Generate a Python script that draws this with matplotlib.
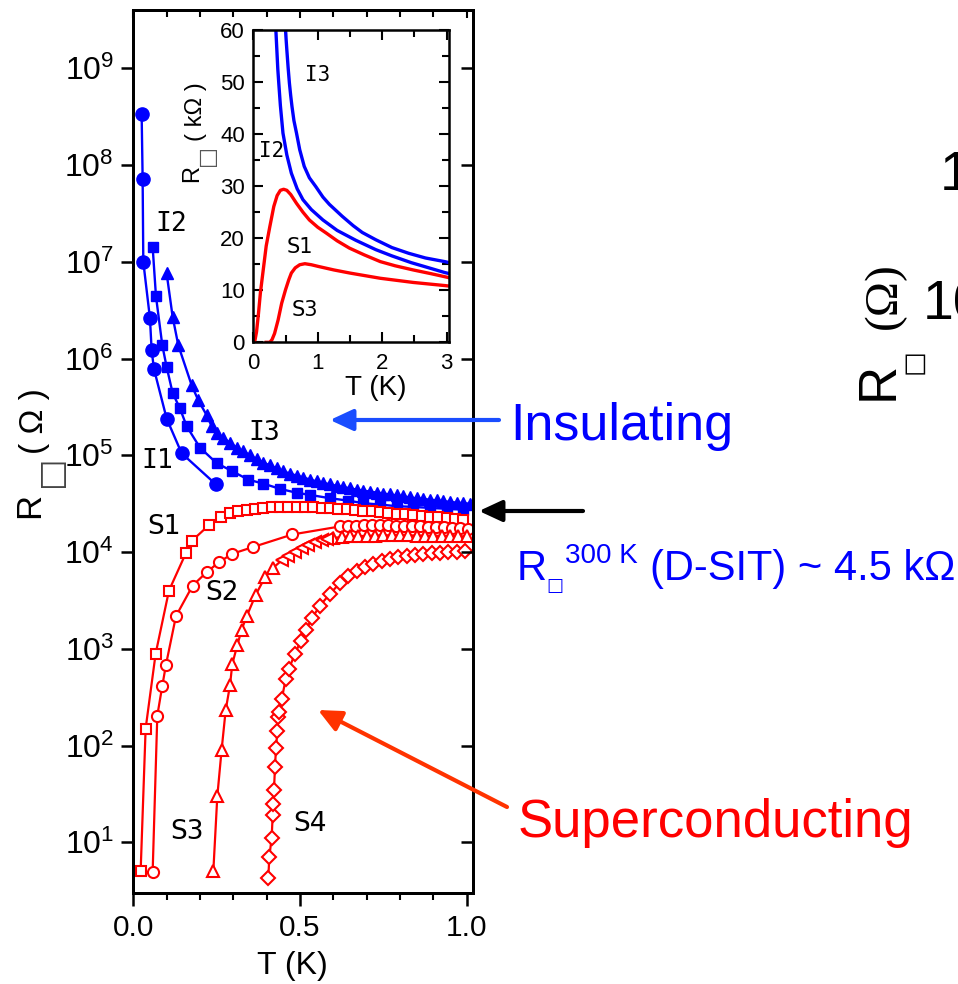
import numpy as np
import matplotlib
matplotlib.use("Agg")
import matplotlib.pyplot as plt
from matplotlib.ticker import FixedLocator, MultipleLocator, FormatStrFormatter, NullLocator, FuncFormatter
from matplotlib.patches import FancyArrowPatch

plt.rcParams['font.family'] = ['Liberation Sans', 'DejaVu Sans']
plt.rcParams['mathtext.fontset'] = 'custom'
plt.rcParams['mathtext.rm'] = 'Liberation Sans'
plt.rcParams['mathtext.default'] = 'regular'

BLUE = '#0000ff'
RED = '#ff0000'

# ---------------- main panel: R_sq(T), T in K, R in Ohm ----------------
t_i1 = [0.025, 0.028, 0.030, 0.050, 0.055, 0.062, 0.100, 0.145, 0.248]
r_i1 = [3.4e8, 7.2e7, 1.0e7, 2.6e6, 1.22e6, 7.8e5, 2.4e5, 1.05e5, 5.0e4]

t_i2 = [0.058, 0.068, 0.087, 0.100, 0.118, 0.140, 0.160, 0.200, 0.250, 0.295,
        0.345, 0.390, 0.440, 0.490, 0.530, 0.590, 0.645, 0.690, 0.740, 0.790,
        0.840, 0.890, 0.940, 0.990]
r_i2 = [1.43e7, 4.4e6, 1.37e6, 8.2e5, 4.4e5, 3.05e5, 2.0e5, 1.2e5, 8.3e4, 6.9e4,
        5.6e4, 5.1e4, 4.5e4, 4.1e4, 3.9e4, 3.6e4, 3.4e4, 3.2e4, 3.1e4, 2.98e4,
        2.93e4, 2.86e4, 2.8e4, 2.75e4]

t_i3 = [0.100, 0.118, 0.135, 0.175, 0.195, 0.220, 0.235,
        0.25, 0.27, 0.29, 0.31, 0.33, 0.35, 0.37, 0.39, 0.41, 0.43,
        0.45, 0.47, 0.49, 0.51, 0.53, 0.55, 0.57, 0.59, 0.61, 0.63,
        0.65, 0.67, 0.69, 0.71, 0.73, 0.75, 0.77, 0.79, 0.81, 0.83,
        0.85, 0.87, 0.89, 0.91, 0.93, 0.95, 0.97, 0.99, 1.01]
r_i3 = [7.6e6, 2.7e6, 1.37e6, 5.3e5, 3.7e5, 2.6e5, 2.0e5,
        1.70e5, 1.51e5, 1.35e5, 1.20e5, 1.10e5, 1.00e5, 9.12e4, 8.41e4, 7.85e4, 7.33e4,
        6.84e4, 6.46e4, 6.17e4, 5.89e4, 5.62e4, 5.37e4, 5.19e4, 5.01e4, 4.84e4, 4.68e4,
        4.57e4, 4.42e4, 4.32e4, 4.22e4, 4.12e4, 4.03e4, 3.94e4, 3.85e4, 3.76e4, 3.67e4,
        3.59e4, 3.55e4, 3.47e4, 3.43e4, 3.35e4, 3.31e4, 3.24e4, 3.20e4, 3.16e4]

t_s1 = [0.022, 0.037, 0.067, 0.107, 0.158, 0.175, 0.227, 0.262,
        0.29, 0.315, 0.34, 0.365, 0.39, 0.415, 0.44, 0.465, 0.49, 0.515,
        0.54, 0.565, 0.59, 0.615, 0.64, 0.665, 0.69, 0.715, 0.74, 0.765,
        0.79, 0.815, 0.84, 0.865, 0.89, 0.915, 0.94, 0.965, 0.99]
r_s1 = [5.0, 150, 890, 4.0e3, 9.8e3, 1.3e4, 1.9e4, 2.3e4,
        2.54e4, 2.66e4, 2.75e4, 2.82e4, 2.88e4, 2.9e4, 2.92e4, 2.93e4, 2.93e4, 2.92e4,
        2.9e4, 2.87e4, 2.83e4, 2.8e4, 2.76e4, 2.72e4, 2.68e4, 2.63e4, 2.59e4, 2.55e4,
        2.5e4, 2.46e4, 2.42e4, 2.37e4, 2.33e4, 2.28e4, 2.24e4, 2.2e4, 2.16e4]

t_s2 = [0.058, 0.072, 0.087, 0.098, 0.128, 0.178, 0.220, 0.258, 0.297, 0.360, 0.477,
        0.620, 0.644, 0.668, 0.692, 0.716, 0.740, 0.764, 0.788, 0.812, 0.836,
        0.860, 0.884, 0.908, 0.932, 0.956, 0.980, 1.004]
r_s2 = [4.9, 204, 415, 685, 2.18e3, 4.5e3, 6.2e3, 7.9e3, 9.6e3, 1.13e4, 1.52e4,
        1.84e4, 1.86e4, 1.88e4, 1.89e4, 1.9e4, 1.9e4, 1.89e4, 1.88e4, 1.87e4, 1.86e4,
        1.84e4, 1.83e4, 1.81e4, 1.8e4, 1.78e4, 1.76e4, 1.75e4]

t_s3 = [0.240, 0.252, 0.265, 0.277, 0.290, 0.297, 0.312, 0.325, 0.340, 0.367, 0.395, 0.418,
        0.445, 0.465, 0.485, 0.505, 0.525, 0.545, 0.565, 0.580,
        0.600, 0.625, 0.650, 0.675, 0.700, 0.725, 0.750, 0.775, 0.800, 0.825,
        0.850, 0.875, 0.900, 0.925, 0.950, 0.975, 1.000]
r_s3 = [5.0, 30, 91, 231, 420, 700, 1.09e3, 1.58e3, 2.17e3, 3.6e3, 5.5e3, 6.8e3,
        8.2e3, 9.1e3, 1.0e4, 1.1e4, 1.19e4, 1.27e4, 1.33e4, 1.37e4,
        1.40e4, 1.43e4, 1.45e4, 1.46e4, 1.47e4, 1.48e4, 1.49e4, 1.49e4, 1.49e4, 1.49e4,
        1.48e4, 1.48e4, 1.47e4, 1.47e4, 1.46e4, 1.46e4, 1.45e4]

t_s4 = [0.405, 0.408, 0.415, 0.418, 0.420, 0.422, 0.425, 0.428, 0.432, 0.435,
        0.437, 0.445, 0.457, 0.467, 0.485, 0.502, 0.517, 0.537, 0.560,
        0.590, 0.620, 0.645, 0.670, 0.695, 0.720, 0.745, 0.770, 0.795, 0.820,
        0.845, 0.870, 0.895, 0.920, 0.945, 0.970, 0.995]
r_s4 = [4.3, 7.1, 11.1, 19, 25, 35, 60, 94, 140, 197,
        222, 300, 484, 624, 890, 1.2e3, 1.55e3, 2.1e3, 2.8e3,
        3.7e3, 4.8e3, 5.6e3, 6.4e3, 7.0e3, 7.6e3, 8.1e3, 8.5e3, 8.8e3, 9.1e3,
        9.35e3, 9.55e3, 9.7e3, 9.85e3, 9.95e3, 1.01e4, 1.02e4]

# ---------------- inset: R_sq(T) in kOhm, linear scale ----------------
tin_i3 = [0.50, 0.51, 0.52, 0.54, 0.56, 0.58, 0.60, 0.63, 0.67, 0.72, 0.79, 0.87, 0.97,
          1.08, 1.18, 1.38, 1.55, 1.69, 1.90, 2.15, 2.41, 2.67, 2.97, 3.04]
rin_i3 = [60, 58.0, 56.2, 52.8, 49.8, 47.4, 45.3, 42.6, 40.2, 37.0, 33.8, 31.6, 29.9,
          27.9, 26.5, 24.2, 22.4, 21.1, 19.7, 18.2, 17.1, 16.2, 15.5, 15.3]

tin_i2 = [0.35, 0.36, 0.37, 0.38, 0.395, 0.42, 0.46, 0.52, 0.59, 0.68, 0.77, 0.90,
          1.08, 1.30, 1.59, 1.90, 2.15, 2.45, 2.67, 2.97, 3.04]
rin_i2 = [60, 57.5, 55.0, 52.5, 49.8, 45.5, 40.2, 36.0, 32.5, 29.5, 27.4, 25.5,
          23.5, 21.5, 19.6, 17.8, 16.6, 15.3, 14.5, 13.4, 13.2]

tin_s1 = [0.02, 0.05, 0.08, 0.11, 0.15, 0.20, 0.256, 0.318, 0.37, 0.42, 0.47, 0.52, 0.58,
          0.67, 0.77, 0.87, 1.00, 1.13, 1.30, 1.49, 1.72, 1.97, 2.20, 2.48, 2.75, 2.97, 3.04]
rin_s1 = [0, 2.0, 5.5, 9.5, 13.5, 18.5, 22.2, 26.1, 28.2, 29.2, 29.4, 29.2, 28.4,
          26.7, 25.0, 23.5, 22.1, 21.0, 19.5, 18.1, 16.8, 15.5, 14.7, 13.9, 13.2, 12.6, 12.4]

tin_s3 = [0.20, 0.256, 0.29, 0.33, 0.385, 0.44, 0.50, 0.55, 0.59, 0.65, 0.72, 0.80, 0.90,
          1.00, 1.25, 1.50, 1.97, 2.48, 2.97, 3.04]
rin_s3 = [0, 0, 0.5, 1.7, 4.3, 7.5, 10.1, 12.0, 13.3, 14.3, 14.9, 15.1, 14.9,
          14.6, 13.9, 13.3, 12.3, 11.5, 10.9, 10.8]

W, H = 958, 984
fig = plt.figure(figsize=(W / 100, H / 100), dpi=100)


def fx(px):
    return px / W


def fy(py):
    return 1 - py / H


# ---------------- main axes ----------------
ax = fig.add_axes([fx(133.3), fy(893), fx(472.7) - fx(133.3), fy(10) - fy(893)])
ax.set_yscale('log')
ylim = (10 ** 0.476, 10 ** 9.603)
xlim = (0, 1.018)

ax.plot(t_i1, r_i1, '-o', color=BLUE, ms=9.5, lw=1.7, zorder=3)
ax.plot(t_i2, r_i2, '-s', color=BLUE, ms=7.5, lw=1.7, zorder=3)
ax.plot(t_i3, r_i3, '-^', color=BLUE, ms=9, lw=1.7, zorder=3)

open_kw = dict(color=RED, mfc='white', mec=RED, mew=1.5, lw=1.6, zorder=4)
ax.plot(t_s1, r_s1, '-s', ms=7.5, **open_kw)
ax.plot(t_s2, r_s2, '-o', ms=8.0, **open_kw)
t3 = np.array(t_s3)
r3 = np.array(r_s3)
ax.plot(t3, r3, '-', color=RED, lw=1.6, zorder=4)
left_pts = (t3 > 0.43) & (t3 < 0.59)
ax.plot(t3[~left_pts], r3[~left_pts], '^', ms=9, color=RED, mfc='white', mew=1.5, zorder=4)
ax.plot(t3[left_pts], r3[left_pts], '<', ms=9, color=RED, mfc='white', mew=1.5, zorder=4)
ax.plot(t_s4, r_s4, '-D', ms=7.5, **open_kw)

ax.set_xlim(*xlim)
ax.set_ylim(*ylim)
decades = [10.0 ** k for k in range(1, 10)]
ax.yaxis.set_major_locator(FixedLocator(decades))
ax.yaxis.set_minor_locator(NullLocator())
ax.yaxis.set_major_formatter(FuncFormatter(lambda v, p: r'$10^{%d}$' % int(round(np.log10(v)))))
ax.xaxis.set_major_locator(MultipleLocator(0.5))
ax.xaxis.set_minor_locator(MultipleLocator(0.1))
ax.xaxis.set_major_formatter(FormatStrFormatter('%.1f'))
ax.tick_params(axis='both', which='major', direction='out', length=9, width=1.8)
ax.tick_params(axis='x', which='minor', direction='out', length=5, width=1.5)
ax.tick_params(axis='y', labelsize=23, pad=5)
ax.tick_params(axis='x', labelsize=21.5, pad=6)
for s in ax.spines.values():
    s.set_linewidth(2.0)

# inward ticks on the top and right sides
ax_top = ax.twiny()
ax_top.set_xlim(*xlim)
ax_top.xaxis.set_major_locator(MultipleLocator(0.5))
ax_top.xaxis.set_minor_locator(MultipleLocator(0.1))
ax_top.tick_params(axis='x', which='both', direction='in', labeltop=False, width=1.5)
ax_top.tick_params(axis='x', which='major', length=6)
ax_top.tick_params(axis='x', which='minor', length=5)

ax_right = ax.twinx()
ax_right.set_yscale('log')
ax_right.set_ylim(*ylim)
ax_right.yaxis.set_major_locator(FixedLocator(decades))
ax_right.yaxis.set_minor_locator(NullLocator())
ax_right.tick_params(axis='y', which='major', direction='in', length=9, width=1.8, labelright=False)
for a in (ax_top, ax_right):
    for s in a.spines.values():
        s.set_linewidth(2.0)

fig.text(fx(292), fy(966), 'T (K)', fontsize=23, ha='center', va='center')

# main y label R_sq ( Ohm ), built from rotated pieces
fig.text(fx(30), fy(505), 'R', fontsize=25, rotation=90, ha='center', va='center')
fig.text(fx(50), fy(471), '\u25a1', fontsize=24, rotation=90, ha='center', va='center',
         color='#444444', family='DejaVu Sans')
fig.text(fx(34), fy(421), '( \u03a9 )', fontsize=24, rotation=90, ha='center', va='center')

# curve labels in the main panel (the "I" labels use a serifed capital I)
lab_kw = dict(fontsize=19, ha='center', va='center')
for txt, px, py in [('I2', 171.5, 224), ('I3', 264, 433), ('I1', 157, 461)]:
    fig.text(fx(px), fy(py), txt, family='DejaVu Sans Mono', **lab_kw)
for txt, px, py in [('S1', 164, 527), ('S2', 222, 593), ('S3', 187, 832), ('S4', 310, 824)]:
    fig.text(fx(px), fy(py), txt, family='DejaVu Sans', **lab_kw)

# ---------------- inset ----------------
axi = fig.add_axes([fx(253.3), fy(342.3), fx(449.3) - fx(253.3), fy(30) - fy(342.3)], zorder=10)
axi.set_facecolor('white')
axi.plot(tin_i3, rin_i3, color=BLUE, lw=2.4)
axi.plot(tin_i2, rin_i2, color=BLUE, lw=2.4)
axi.plot(tin_s1, rin_s1, color=RED, lw=2.4)
axi.plot(tin_s3, rin_s3, color=RED, lw=2.4)
axi.set_xlim(0, 3.04)
axi.set_ylim(0, 60)
axi.xaxis.set_major_locator(MultipleLocator(1))
axi.xaxis.set_minor_locator(MultipleLocator(0.5))
axi.yaxis.set_major_locator(MultipleLocator(10))
axi.yaxis.set_minor_locator(MultipleLocator(5))
axi.tick_params(which='both', direction='in', top=True, right=True, width=1.5, labelsize=16)
axi.tick_params(which='major', length=7)
axi.tick_params(which='minor', length=5)
axi.tick_params(axis='y', pad=6)
axi.tick_params(axis='x', pad=8)
for s in axi.spines.values():
    s.set_linewidth(1.8)

fig.text(fx(376), fy(388), 'T (K)', fontsize=20, ha='center', va='center', zorder=11)
fig.text(fx(192), fy(173), 'R', fontsize=17, rotation=90, ha='center', va='center')
fig.text(fx(207), fy(155), '\u25a1', fontsize=16, rotation=90, ha='center', va='center',
         color='#555555', family='DejaVu Sans')
fig.text(fx(196), fy(112), '( k\u03a9 )', fontsize=17, rotation=90, ha='center', va='center')

ilab_kw = dict(fontsize=15, ha='center', va='center', zorder=11)
for txt, px, py in [('I3', 318, 75), ('I2', 272, 151)]:
    fig.text(fx(px), fy(py), txt, family='DejaVu Sans Mono', **ilab_kw)
for txt, px, py in [('S1', 300, 247), ('S3', 305, 310)]:
    fig.text(fx(px), fy(py), txt, family='DejaVu Sans', **ilab_kw)

# ---------------- annotations ----------------
def arrow(x0, y0, x1, y1, color):
    fig.add_artist(FancyArrowPatch((fx(x0), fy(y0)), (fx(x1), fy(y1)), transform=fig.transFigure,
                                   arrowstyle='-|>,head_length=1.4,head_width=0.65',
                                   mutation_scale=10, lw=3.0, color=color,
                                   shrinkA=0, shrinkB=0))


arrow(499, 420, 330, 420, '#1a4dff')
arrow(583, 511, 479, 511, 'black')
arrow(507, 807, 318, 710, '#ff3300')

fig.text(fx(510), fy(440), 'Insulating', fontsize=37.5, color=BLUE, ha='left', va='baseline')
fig.text(fx(518), fy(837), 'Superconducting', fontsize=38, color=RED, ha='left', va='baseline')

fig.text(fx(517), fy(580), 'R', fontsize=30, color=BLUE, ha='left', va='baseline')
fig.text(fx(554.5), fy(586), '\u25a1', fontsize=13, color=BLUE, ha='center', va='center',
         family='DejaVu Sans')
fig.text(fx(565), fy(563), '300 K', fontsize=20, color=BLUE, ha='left', va='baseline')
fig.text(fx(650), fy(580), '(D-SIT) ~ 4.5 k\u03a9', fontsize=30, color=BLUE, ha='left', va='baseline')

# neighbouring panel, cut at the right edge
fig.text(fx(940), fy(190), '1', fontsize=40, ha='left', va='baseline')
fig.text(fx(923), fy(320), '10', fontsize=40, ha='left', va='baseline')
fig.text(fx(879), fy(381), 'R', fontsize=38, rotation=90, ha='center', va='center')
fig.text(fx(913), fy(362), '\u25a1', fontsize=19, rotation=90, ha='center', va='center',
         family='DejaVu Sans')
fig.text(fx(885), fy(296), '(\u03a9)', fontsize=34, rotation=90, ha='center', va='center',
         family='Liberation Serif')

fig.savefig('out.png', dpi=100)
